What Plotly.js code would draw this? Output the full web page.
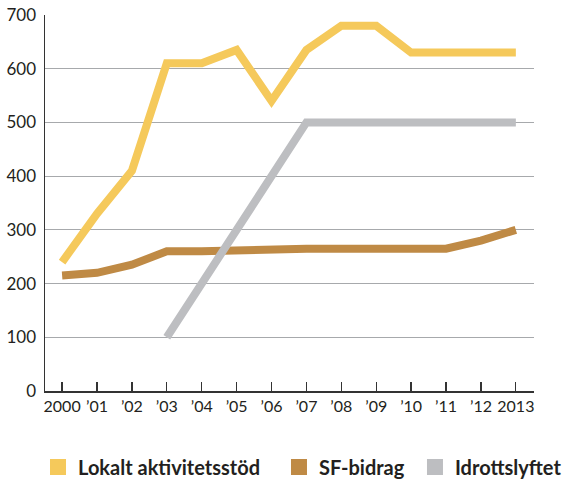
<!DOCTYPE html>
<html>
<head>
<meta charset="utf-8">
<script src="https://cdn.plot.ly/plotly-3.0.1.min.js"></script>
<style>html,body{margin:0;padding:0;background:#fff;}#chart{width:571px;height:481px;}</style>
</head>
<body>
<div id="chart"></div>
<script>
const years = [2000,2001,2002,2003,2004,2005,2006,2007,2008,2009,2010,2011,2012,2013];
const tickLabels = ["2000","’01","’02","’03","’04","’05","’06","’07","’08","’09","’10","’11","’12","2013"];
const lokalt = [240,330,410,610,610,635,540,635,680,680,630,630,630,630];
const sfBidrag = [215,220,235,260,260,262,265,265,265,265,265,265,280,300];
const idrottsYears = [2003,2004,2005,2006,2007,2008,2009,2010,2011,2012,2013];
const idrottslyftet = [100,200,300,400,500,500,500,500,500,500,500];
const names = ["Lokalt aktivitetsstöd","SF-bidrag","Idrottslyftet"];
const colors = ["#F5C95B","#BF8A45","#BDBEC1"];

const series = [[years,lokalt],[years,sfBidrag],[idrottsYears,idrottslyftet]];
const traces = [];
[1,2,0].forEach(i=>{
  traces.push({x:series[i][0], y:series[i][1], type:'scatter', mode:'lines',
    line:{color:colors[i], width:8, shape:'linear'}, showlegend:false, hoverinfo:'skip'});
});
const legendIds = ['legend','legend2','legend3'];
names.forEach((n,i)=>{
  traces.push({x:[null], y:[null], type:'scatter', mode:'markers', name:n, legend:legendIds[i],
    marker:{symbol:'square', size:22, color:colors[i]}, showlegend:true});
});

const legendFont = {size:20, color:'#231F20', family:'Lato, "Open Sans", sans-serif', weight:'bold'};
const legendX = [-0.0143, 0.4785, 0.7566];
const layout = {
  width:571, height:481,
  margin:{l:45, r:37, t:15, b:90, autoexpand:false},
  paper_bgcolor:'#fff', plot_bgcolor:'#fff',
  font:{family:'Lato, "Open Sans", sans-serif', color:'#231F20'},
  xaxis:{range:[1999.51,2013.52], tickvals:years, ticktext:tickLabels,
    ticks:'inside', ticklen:9, tickwidth:1.3, tickcolor:'#333',
    showline:true, linecolor:'#333', linewidth:1.5, showgrid:false, zeroline:false,
    tickfont:{size:16, color:'#231F20'}, fixedrange:true, automargin:false},
  yaxis:{range:[0,700], dtick:100, tick0:0, showgrid:true, gridcolor:'#A7A9AC', gridwidth:1,
    showline:true, linecolor:'#333', linewidth:1.5, zeroline:false, ticks:'',
    tickfont:{size:17, color:'#231F20'}, ticklabelstandoff:4, fixedrange:true, automargin:false},
  showlegend:true
};
legendIds.forEach((id,i)=>{
  layout[id] = {x:legendX[i], xanchor:'left', y:-0.2021, yanchor:'middle',
    font:legendFont, bgcolor:'rgba(0,0,0,0)'};
});
Plotly.newPlot('chart', traces, layout, {displayModeBar:false, staticPlot:true});
</script>
</body>
</html>
